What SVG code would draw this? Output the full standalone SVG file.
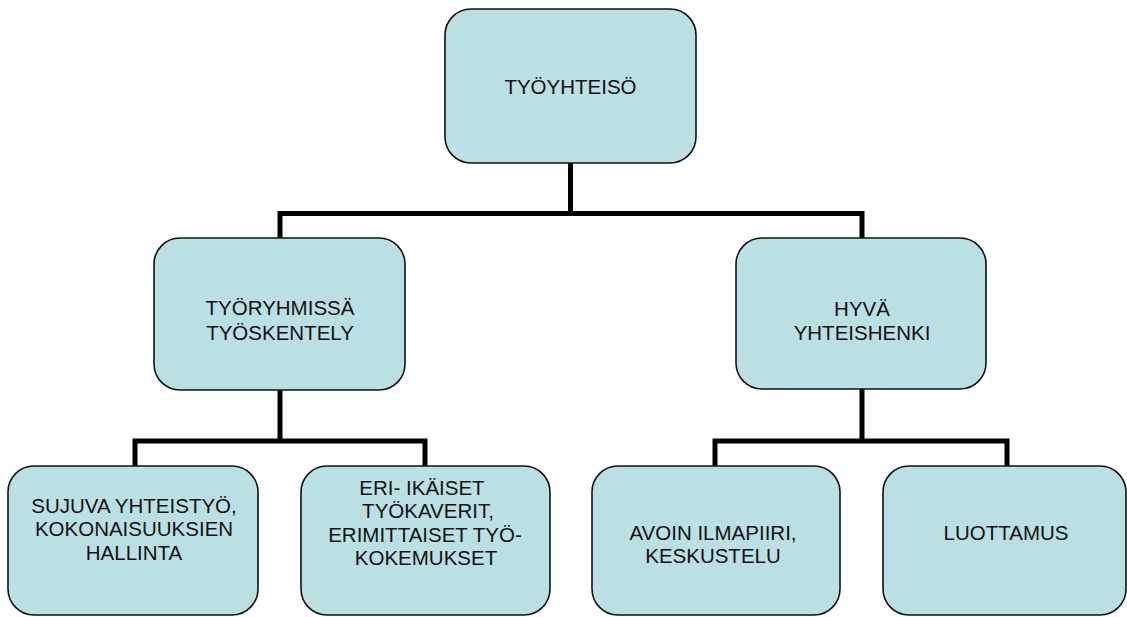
<svg xmlns="http://www.w3.org/2000/svg" width="1127" height="617" viewBox="0 0 1127 617">
  <style>
    .box { fill: #bae0e3; stroke: #111; stroke-width: 1.6; }
    .lbl { font-family: "Liberation Sans", Arial, sans-serif; font-size: 20.5px; fill: #111; text-anchor: middle; }
    .link { fill: none; stroke: #000; stroke-width: 5; stroke-linejoin: miter; stroke-linecap: butt; }
  </style>
  <rect width="1127" height="617" fill="#fff"/>

  <!-- connectors -->
  <g id="connectors">
    <path class="link" d="M570.5 163 V213.5 M280 238 V213.5 H862 V238"/>
    <path class="link" d="M280 390 V441 M135 466 V441 H425 V466"/>
    <path class="link" d="M862 389 V441 M715 466 V441 H1007 V466"/>
  </g>

  <g id="node-tyoyhteiso">
    <rect class="box" x="445" y="9" width="251" height="154" rx="26"/>
    <text class="lbl" x="570.5" y="94">TYÖYHTEISÖ</text>
  </g>

  <g id="node-tyoryhmissa">
    <rect class="box" x="154" y="238" width="251" height="152" rx="26"/>
    <text class="lbl" x="280" y="315">TYÖRYHMISSÄ</text>
    <text class="lbl" x="280" y="340">TYÖSKENTELY</text>
  </g>

  <g id="node-hyva">
    <rect class="box" x="736" y="238" width="250" height="151" rx="26"/>
    <text class="lbl" x="862" y="316">HYVÄ</text>
    <text class="lbl" x="862" y="340">YHTEISHENKI</text>
  </g>

  <g id="node-sujuva">
    <rect class="box" x="8" y="466" width="250" height="149" rx="26"/>
    <text class="lbl" x="134" y="513">SUJUVA YHTEISTYÖ,</text>
    <text class="lbl" x="134" y="536">KOKONAISUUKSIEN</text>
    <text class="lbl" x="134" y="560">HALLINTA</text>
  </g>

  <g id="node-eri-ikaiset">
    <rect class="box" x="301" y="466" width="249" height="149" rx="26"/>
    <text class="lbl" x="422" y="495">ERI- IKÄISET</text>
    <text class="lbl" x="428" y="518">TYÖKAVERIT,</text>
    <text class="lbl" x="425" y="542">ERIMITTAISET TYÖ-</text>
    <text class="lbl" x="426" y="565">KOKEMUKSET</text>
  </g>

  <g id="node-avoin">
    <rect class="box" x="592" y="466" width="248" height="149" rx="26"/>
    <text class="lbl" x="713" y="540">AVOIN ILMAPIIRI,</text>
    <text class="lbl" x="713" y="563">KESKUSTELU</text>
  </g>

  <g id="node-luottamus">
    <rect class="box" x="883" y="466" width="243" height="149" rx="26"/>
    <text class="lbl" x="1006" y="540">LUOTTAMUS</text>
  </g>
</svg>
